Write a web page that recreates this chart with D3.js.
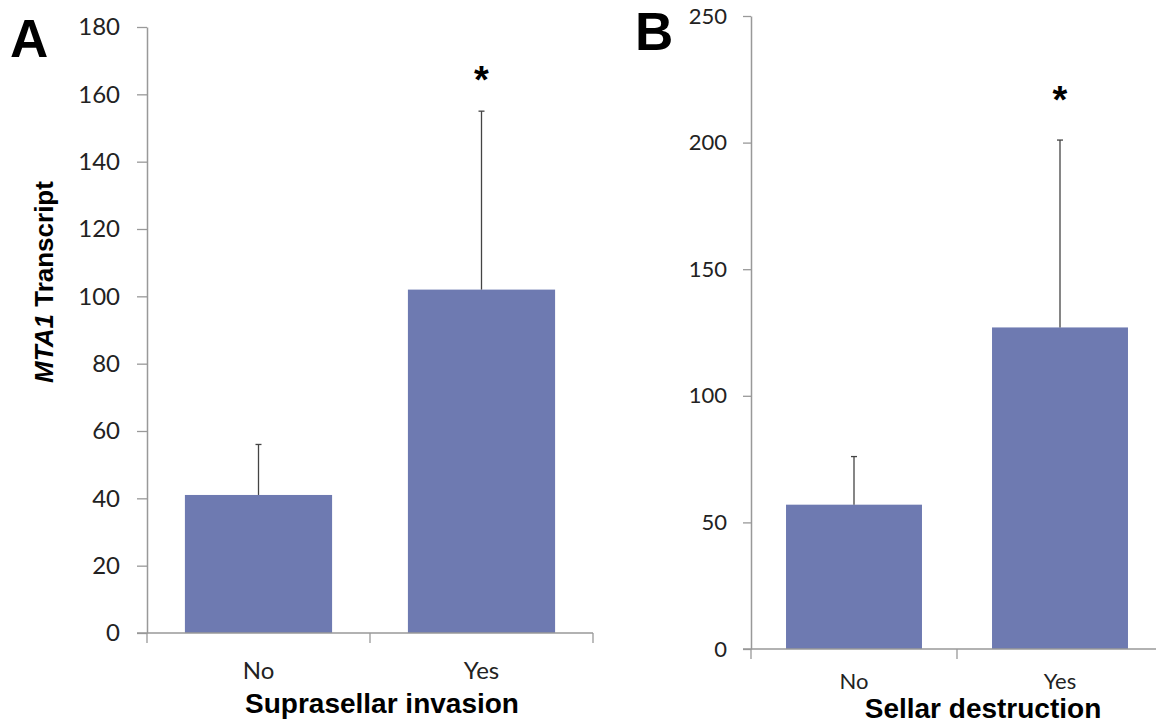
<!DOCTYPE html>
<html>
<head>
<meta charset="utf-8">
<script src="https://cdn.jsdelivr.net/npm/d3@7"></script>
<style>
  body { margin: 0; background: #fff; }
  svg { display: block; }
</style>
</head>
<body>
<div id="chart"></div>
<script>
// Data
var categories = ["No", "Yes"]

// Panel A: suprasellar invasion
var invasionMeans = [41, 102]
var invasionErrors = [15, 53]
var invasionTicks = [0, 20, 40, 60, 80, 100, 120, 140, 160, 180]

// Panel B: sellar destruction
var destructionMeans = [57, 127]
var destructionErrors = [19, 74]
var destructionTicks = [0, 50, 100, 150, 200, 250]

var barColor = "#6e7ab1"
var axisColor = "#999"

var svg = d3.select("#chart")
  .append("svg")
    .attr("width", 1156)
    .attr("height", 726)

function drawPanel(opts) {
  var g = svg.append("g")

  var x = d3.scaleBand()
    .domain(categories)
    .range([opts.left, opts.right])
    .paddingInner(0.34)
    .paddingOuter(0.17)

  var y = d3.scaleLinear()
    .domain([0, d3.max(opts.ticks)])
    .range([opts.bottom, opts.top])

  // Y axis
  var yAxis = g.append("g")
    .attr("transform", "translate(" + opts.left + ",0)")
    .call(d3.axisLeft(y)
      .tickValues(opts.ticks)
      .tickSize(opts.tickLen)
      .tickSizeOuter(0)
      .tickPadding(opts.tickPad))
  yAxis.select(".domain").attr("stroke", axisColor).attr("stroke-width", 1.5)
  yAxis.selectAll(".tick line").attr("stroke", axisColor).attr("stroke-width", 1.3)
  yAxis.selectAll(".tick text")
    .attr("fill", "#222")
    .style("font-family", "Lato, 'Open Sans', sans-serif")
    .style("font-size", opts.fontSize + "px")

  // Bars
  g.selectAll("rect.bar")
    .data(opts.means)
    .enter()
    .append("rect")
      .attr("class", "bar")
      .attr("x", function(d, i) { return x(categories[i]) })
      .attr("width", x.bandwidth())
      .attr("y", function(d) { return y(d) })
      .attr("height", function(d) { return y(0) - y(d) })
      .attr("fill", barColor)

  // Error bars (upper only, small cap)
  var err = g.selectAll("g.err")
    .data(opts.means)
    .enter()
    .append("g")
      .attr("class", "err")
  err.append("line")
    .attr("x1", function(d, i) { return x(categories[i]) + x.bandwidth() / 2 })
    .attr("x2", function(d, i) { return x(categories[i]) + x.bandwidth() / 2 })
    .attr("y1", function(d) { return y(d) })
    .attr("y2", function(d, i) { return y(d + opts.errors[i]) })
    .attr("stroke", "#444")
    .attr("stroke-width", 1.3)
  err.append("line")
    .attr("x1", function(d, i) { return x(categories[i]) + x.bandwidth() / 2 - 3 })
    .attr("x2", function(d, i) { return x(categories[i]) + x.bandwidth() / 2 + 3 })
    .attr("y1", function(d, i) { return y(d + opts.errors[i]) })
    .attr("y2", function(d, i) { return y(d + opts.errors[i]) })
    .attr("stroke", "#444")
    .attr("stroke-width", 1.3)

  // X axis baseline and category boundary ticks
  g.append("line")
    .attr("x1", opts.left - opts.tickLen)
    .attr("x2", opts.right)
    .attr("y1", y(0))
    .attr("y2", y(0))
    .attr("stroke", axisColor)
    .attr("stroke-width", 1.5)
  d3.range(categories.length + 1).forEach(function(i) {
    var bx = opts.left + i * x.step()
    g.append("line")
      .attr("x1", bx).attr("x2", bx)
      .attr("y1", y(0)).attr("y2", y(0) + 10)
      .attr("stroke", axisColor)
      .attr("stroke-width", 1.3)
  })

  // Category labels
  g.selectAll("text.cat")
    .data(categories)
    .enter()
    .append("text")
      .attr("class", "cat")
      .attr("x", function(d) { return x(d) + x.bandwidth() / 2 })
      .attr("y", y(0) + opts.catOffset)
      .attr("text-anchor", "middle")
      .attr("fill", "#222")
      .style("font-family", "Lato, 'Open Sans', sans-serif")
      .style("font-size", opts.fontSize + "px")
      .text(function(d) { return d })

  // Axis title
  g.append("text")
    .attr("x", opts.titleX)
    .attr("y", opts.titleY)
    .attr("text-anchor", "middle")
    .style("font-family", "Arial, 'Liberation Sans', sans-serif")
    .style("font-weight", "bold")
    .style("font-size", "28px")
    .text(opts.title)

  // Significance star over the Yes bar
  g.append("text")
    .attr("x", x("Yes") + x.bandwidth() / 2)
    .attr("y", opts.starY)
    .attr("text-anchor", "middle")
    .style("font-family", "Arial, 'Liberation Sans', sans-serif")
    .style("font-weight", "bold")
    .style("font-size", "38px")
    .text("*")

  // Panel letter
  g.append("text")
    .attr("x", opts.letterX)
    .attr("y", opts.letterY)
    .style("font-family", "Arial, 'Liberation Sans', sans-serif")
    .style("font-weight", "bold")
    .style("font-size", "53px")
    .text(opts.letter)
}

drawPanel({
  means: invasionMeans, errors: invasionErrors, ticks: invasionTicks,
  left: 147, right: 593, top: 27, bottom: 633,
  tickLen: 10, tickPad: 17, fontSize: 24, catOffset: 46,
  title: "Suprasellar invasion", titleX: 382, titleY: 713,
  starY: 93, letter: "A", letterX: 10, letterY: 57
})

drawPanel({
  means: destructionMeans, errors: destructionErrors, ticks: destructionTicks,
  left: 751, right: 1163, top: 16, bottom: 649,
  tickLen: 8, tickPad: 16, fontSize: 22, catOffset: 40,
  title: "Sellar destruction", titleX: 983, titleY: 718,
  starY: 113, letter: "B", letterX: 635, letterY: 50
})

// Y axis title of panel A: italic gene name
var yTitle = svg.append("text")
  .attr("transform", "translate(53,282) rotate(-90)")
  .attr("text-anchor", "middle")
  .style("font-family", "Arial, 'Liberation Sans', sans-serif")
  .style("font-weight", "bold")
  .style("font-size", "26px")
yTitle.append("tspan").style("font-style", "italic").text("MTA1")
yTitle.append("tspan").text(" Transcript")
</script>
</body>
</html>
